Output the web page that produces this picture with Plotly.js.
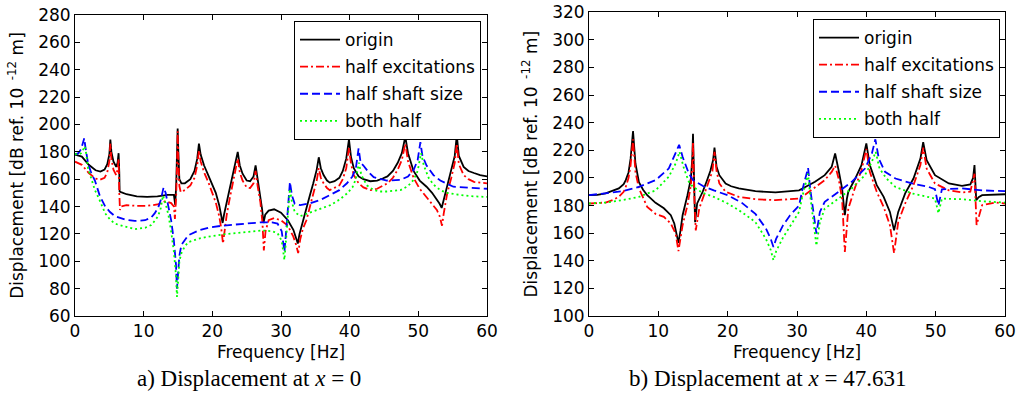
<!DOCTYPE html>
<html>
<head>
<meta charset="utf-8">
<script src="https://cdn.plot.ly/plotly-3.0.1.min.js"></script>
<style>html,body{margin:0;padding:0;background:#fff;}#chart{width:1024px;height:395px;}</style>
</head>
<body>
<div id="chart"></div>
<script>
// ---------- Panel a) Displacement at x = 0 ----------
const freqA_origin = [0,0.5,1,2,3,3.7,4.3,4.7,5.0,5.15,5.3,5.6,6.0,6.2,6.35,6.45,6.5,6.7,7.5,9,10.5,12,13.5,14.4,14.6,14.75,14.9,14.95,15.05,15.2,15.5,16,16.8,17.4,17.8,18.05,18.3,18.8,19.4,20.0,20.5,21.0,21.3,21.5,21.7,22.0,22.5,23.0,23.4,23.7,24.0,24.4,25.0,25.5,26.0,26.3,26.6,27.0,27.25,27.45,27.7,28.2,29.0,30.0,31.0,31.8,32.2,32.45,32.7,33.2,33.7,34.2,34.7,35.2,35.5,35.8,36.2,36.7,37.1,37.8,38.5,39.0,39.5,39.9,40.2,40.6,41.3,42.0,43.0,44.0,44.8,45.5,46.3,47.0,47.6,48.1,48.5,49.3,50.2,51.2,52.0,52.7,53.1,53.4,53.7,54.2,54.8,55.3,55.6,55.9,56.6,57.3,58.1,59.0,60.0];
const dispA_origin = [178,177.5,176.5,170.5,166.5,165.5,167,171,178,189,180,173,169,172,179,165,151,150.5,149,147.5,147,147.5,148.5,148.5,141,158,185,197,180,160,157,157,160,166,175,186,178,170,163,156,150,141,134,128,134,141,152,163,172,180,170,164,159,158.5,162,170,160,148,138,128,134,137,138,135.5,130,123,117,113,120,130,138,148,157,167,176,168,163,159,157.5,158.5,161,166,175,189,176,168,162,160,158.5,159,160.5,162,166,172,179,191,179,166,159,154.5,150,145,142,139,145,157,167,177,192,177,169,166,164.5,163,162];

const freqA_halfExc = [0,1,2,3,3.6,4.3,4.7,5.0,5.15,5.3,5.6,6.0,6.2,6.35,6.45,6.55,6.7,7.5,9,10.5,12,13.2,14.0,14.4,14.55,14.75,14.9,14.95,15.05,15.2,15.4,16,16.8,17.4,17.8,18.05,18.3,18.8,19.4,20.0,20.5,21.0,21.3,21.55,21.8,22.1,22.5,23.0,23.4,23.7,24.0,24.4,25.0,25.5,26.0,26.3,26.6,27.0,27.3,27.5,27.75,28.2,29.0,30.0,31.0,31.8,32.2,32.5,32.8,33.2,33.7,34.2,34.7,35.2,35.5,35.8,36.2,36.7,37.1,37.8,38.5,39.0,39.5,39.9,40.2,40.6,41.3,42.0,43.0,44.0,44.8,45.5,46.3,47.0,47.6,48.1,48.5,49.3,50.2,51.2,52.0,52.7,53.1,53.45,53.7,54.2,54.8,55.3,55.6,55.9,56.6,57.3,58.1,59.0,60.0];
const dispA_halfExc = [172.8,170.5,164.5,160.5,159.5,161,165,173,186,175,167,163,167,175,150,137.5,140,141,140.5,140.5,141.5,144,142.5,140,131,150,180,195,175,155,150.5,152,155.5,161,170,181,173,165,158,150,143,133,124,113,124,134,145,157,166,175,165,159,154,153.5,157,166,155,143,128,108,122,130,131.5,130,126,118,112,106,116,124,130,140,149.5,159,168,161,157,153.5,152,153.5,155.5,160,168,183,171,163,157,154,152,153,155,157,161,167,174,186,173,161,153,147,142,137.5,133,126,135,149.5,161,172,186,171,163,160,158,157.5,157];

const freqA_halfShaft = [0,0.5,0.9,1.2,1.35,1.5,1.9,2.4,2.9,3.6,4.4,5.1,5.8,7.3,8.7,10.2,11.1,11.6,12.1,12.5,12.9,13.2,13.6,14.0,14.4,14.7,14.85,15.0,15.2,15.5,16.0,16.5,18.0,19.4,21.4,24.3,27.2,28.7,29.5,30.1,30.5,30.8,31.1,31.3,31.6,32.0,32.8,34.3,35.8,37.2,38.5,39.6,40.4,40.9,41.3,41.6,42.0,42.7,43.5,45.4,47.4,48.5,49.3,49.9,50.3,50.6,51.2,52.2,53.2,55.1,57.5,60.0];
const dispA_halfShaft = [178,179,182,189,190,184,171.5,164,159,148,140,136,133,130.5,129.5,130,132,135,139,145,154,150,141,130,115,98,80,88,104,112,116,119,122.5,124.5,126,127.5,128.5,128.5,127.5,122,107,125,145,158,148,142,141,142.5,145,148.5,152,157,162,168,182.5,172,170,165.5,161.5,159,159.5,162,166.5,174,187,177,170,163,159,154.5,153.5,153];

const freqA_bothHalf = [0,0.5,0.9,1.25,1.45,1.65,1.9,2.4,2.9,3.6,4.4,5.1,5.8,7.3,8.7,10.2,11.1,11.6,12.1,12.5,12.8,13.1,13.6,14.0,14.4,14.7,14.85,15.0,15.2,15.5,16.0,16.5,18.0,19.4,21.4,24.3,27.2,28.7,29.5,30.1,30.5,30.8,31.1,31.3,31.6,32.0,32.8,34.3,35.8,37.2,38.5,39.6,40.4,40.9,41.35,41.7,42.5,43.5,44.4,45.4,47.4,48.5,49.3,49.9,50.4,50.8,51.5,52.2,53.2,54.1,56.0,58.0,60.0];
const dispA_bothHalf = [178.5,178,179,182,184,178,168,160,152,144.5,135,130.5,127.5,125.3,123.5,124.5,126.5,129.5,133,139,148,144,134,122,107,90,74,84,100,106,111,114,116.5,118,119.5,121,122.5,122,120.5,115,101,120,140,153,143,136,133,136,138.5,141,145,149.5,154,160,172,163,155.5,152,151,151,152,155,159.5,166,179,170,161,156,152,150,148.5,147.5,147];

// ---------- Panel b) Displacement at x = 47.631 ----------
const freqB_origin = [0,1.2,2.4,3.4,4.3,5.0,5.3,5.7,6.0,6.35,6.7,7.2,7.8,8.4,9.6,10.8,11.8,12.3,12.6,12.9,13.2,13.5,14.2,14.7,14.9,15.0,15.15,15.3,15.6,16.4,17.0,17.5,17.9,18.1,18.4,18.8,19.7,20.5,21.6,24.0,26.9,28.5,30.3,31.2,32.6,34.0,35.0,35.5,35.75,36.0,36.5,36.9,37.2,37.4,38.4,39.3,40.0,40.5,41.5,42.5,43.4,44.0,44.6,45.6,46.8,47.8,48.2,48.7,49.9,51.9,53.8,55.0,55.4,55.6,55.85,56.2,56.7,58.6,60.0];
const dispB_origin = [187.5,187.8,188.8,190.5,192.4,195.5,198.4,204,214,234,210.5,197,191.5,187.5,182,178,173,167,161,153,162,173,187.5,199.6,215,232,200,168,181.5,190,198,205,213,222,208,202,196,194,192.4,190.4,189.5,190,191,193.5,197.2,202,208,217.7,210,205.6,192.4,173,185,190,199.6,209.3,225,209.3,194.8,186.3,175.4,162,175.4,188.8,199.6,214,226,212.9,202,196,194.3,195.3,200,209.3,184,186,187.5,188.2,188.2];

const freqB_halfExc = [0,2.4,3.4,4.3,5.0,5.3,5.7,6.0,6.35,6.7,7.2,8.4,9.6,10.8,11.8,12.5,12.9,13.2,13.5,14.2,14.7,14.9,15.0,15.2,15.4,15.9,16.6,17.3,17.8,18.1,18.4,18.8,19.7,21.6,24.0,26.9,30.3,31.2,32.6,34.0,35.0,35.5,36.0,36.5,36.9,37.4,38.4,39.3,40.0,40.5,41.5,42.5,43.4,44.0,44.6,45.6,46.8,47.8,48.2,48.7,49.9,51.9,53.8,55.0,55.6,55.9,56.7,58.6,60.0];
const dispB_halfExc = [181.5,182.2,184,186.3,190,193.5,200,209.3,228,204.4,192.4,179,174,171.8,167,159.7,147,155,165.8,180.3,194.8,210,226,185,162,177.8,187.5,197.2,205,219,205,196,190,186.3,184.6,183.9,185.1,188,193,198.4,204.4,209,199.6,185.1,146.4,177.8,193.5,205.6,221,204.4,190,179,165.8,145.5,168.2,181.5,194.8,209.3,222,206.8,196,191,189.5,190,203,166,180.3,182.2,181.5];

const freqB_halfShaft = [0,2.4,4.8,7.2,9.6,11.5,12.5,13.0,13.5,14.4,15.0,16.5,18.0,20.0,22.0,24.0,25.5,26.2,26.6,27.0,28.0,29.0,30.3,30.7,31.2,31.6,31.9,32.4,32.8,33.3,34.0,36.0,37.9,39.8,40.8,41.3,41.8,42.7,44.2,46.6,49.0,49.9,50.4,50.9,53.8,56.7,60.0];
const dispB_halfShaft = [187.5,188.8,190.4,193.5,198.4,206.8,217.7,224,215.3,203.2,198.4,194,191,187.5,182.2,174,163.6,156,150,156,165.8,173,180,190,199.6,207.3,192.4,173,159.7,175.4,182.7,190,197.2,206.8,217.7,228,214,204.4,199.6,196,193.5,191.8,180,191.8,192.4,191,190.4];

const freqB_bothHalf = [0,2.4,4.8,7.2,9.6,11.5,12.5,13.05,13.7,14.4,15.0,16.5,18.0,20.0,22.0,24.0,25.5,26.2,26.6,27.0,28.0,29.0,30.3,30.7,31.2,31.6,31.9,32.4,32.8,33.3,34.0,36.0,37.9,39.8,40.8,41.35,41.9,42.9,44.2,46.6,49.0,49.9,50.4,50.9,53.8,56.7,60.0];
const dispB_bothHalf = [181.5,182.2,183.9,186.3,191,200.8,210.5,219,206.8,197.2,193.5,189,186.3,181.5,175.4,168,156,148,140.4,147,157,165,175.4,185,194.8,203,187.5,168,151,168,177.8,185.1,192.4,202,211.7,219,206.8,199.6,193.5,188.8,186.3,185.1,174.5,185,184.6,183.1,182.2];

// ---------- labels ----------
const seriesNames = ['origin', 'half excitations', 'half shaft size', 'both half'];
const xTitle = 'Frequency [Hz]';
const yTitle = 'Displacement [dB ref. 10<sup>  -12</sup> m]';
const captionA = 'a) Displacement at <i>x</i>&nbsp;=&nbsp;0';
const captionB = 'b) Displacement at <i>x</i>&nbsp;=&nbsp;47.631';

// ---------- styles ----------
const lineStyles = [
  {color: '#000000', width: 1.8, dash: 'solid'},
  {color: '#ff0000', width: 1.8, dash: '8px,3px,2px,3px'},
  {color: '#0000ff', width: 1.8, dash: '8px,4px'},
  {color: '#00ff00', width: 1.8, dash: '2px,3px'}
];
const dataA = [[freqA_origin, dispA_origin],[freqA_halfExc, dispA_halfExc],[freqA_halfShaft, dispA_halfShaft],[freqA_bothHalf, dispA_bothHalf]];
const dataB = [[freqB_origin, dispB_origin],[freqB_halfExc, dispB_halfExc],[freqB_halfShaft, dispB_halfShaft],[freqB_bothHalf, dispB_bothHalf]];

const traces = [];
dataA.forEach((d, i) => traces.push({
  x: d[0], y: d[1], type: 'scatter', mode: 'lines', name: seriesNames[i],
  line: lineStyles[i], xaxis: 'x', yaxis: 'y', legend: 'legend', legendgroup: 'a' + i
}));
dataB.forEach((d, i) => traces.push({
  x: d[0], y: d[1], type: 'scatter', mode: 'lines', name: seriesNames[i],
  line: lineStyles[i], xaxis: 'x2', yaxis: 'y2', legend: 'legend2', legendgroup: 'b' + i
}));

const tickFont = {family: 'DejaVu Sans', size: 17, color: '#000'};
const titleFont = {family: 'DejaVu Sans', size: 17, color: '#000'};
const W = 1024, H = 395;
function axisCommon() {
  return {
    showline: true, linecolor: '#000', linewidth: 1, mirror: 'ticks',
    ticks: 'inside', ticklen: 5, tickwidth: 1, tickcolor: '#000',
    showgrid: false, zeroline: false, tickfont: tickFont, fixedrange: true
  };
}
const layout = {
  width: W, height: H,
  margin: {l: 0, r: 0, t: 0, b: 0},
  paper_bgcolor: '#fff', plot_bgcolor: '#fff',
  showlegend: true,
  xaxis: Object.assign(axisCommon(), {domain: [75 / W, 487 / W], range: [0, 60], dtick: 10, anchor: 'y',
    title: {text: xTitle, font: titleFont, standoff: 5}}),
  yaxis: Object.assign(axisCommon(), {domain: [1 - 316 / H, 1 - 15 / H], range: [60, 280], dtick: 20, anchor: 'x',
    title: {text: yTitle, font: titleFont, standoff: 10}}),
  xaxis2: Object.assign(axisCommon(), {domain: [589 / W, 1005 / W], range: [0, 60], dtick: 10, anchor: 'y2',
    title: {text: xTitle, font: titleFont, standoff: 5}}),
  yaxis2: Object.assign(axisCommon(), {domain: [1 - 316 / H, 1 - 12.3 / H], range: [100, 320], dtick: 20, anchor: 'x2',
    title: {text: yTitle, font: titleFont, standoff: 10}}),
  legend: {x: 481 / W, xanchor: 'right', y: 1 - 21 / H, yanchor: 'top', bgcolor: '#fff',
    bordercolor: '#000', borderwidth: 1, font: {family: 'DejaVu Sans', size: 17, color: '#000'},
    itemwidth: 40, tracegroupgap: 2, traceorder: 'grouped'},
  legend2: {x: 1000 / W, xanchor: 'right', y: 1 - 19 / H, yanchor: 'top', bgcolor: '#fff',
    bordercolor: '#000', borderwidth: 1, font: {family: 'DejaVu Sans', size: 17, color: '#000'},
    itemwidth: 40, tracegroupgap: 2, traceorder: 'grouped'},
  annotations: [
    {text: captionA, xref: 'paper', yref: 'paper', x: 249 / W, y: 1 - 378 / H, xanchor: 'center', yanchor: 'middle',
      showarrow: false, font: {family: 'Liberation Serif', size: 23, color: '#000'}},
    {text: captionB, xref: 'paper', yref: 'paper', x: 767 / W, y: 1 - 378 / H, xanchor: 'center', yanchor: 'middle',
      showarrow: false, font: {family: 'Liberation Serif', size: 23, color: '#000'}}
  ]
};
Plotly.newPlot('chart', traces, layout, {displayModeBar: false, staticPlot: true});
</script>
</body>
</html>
